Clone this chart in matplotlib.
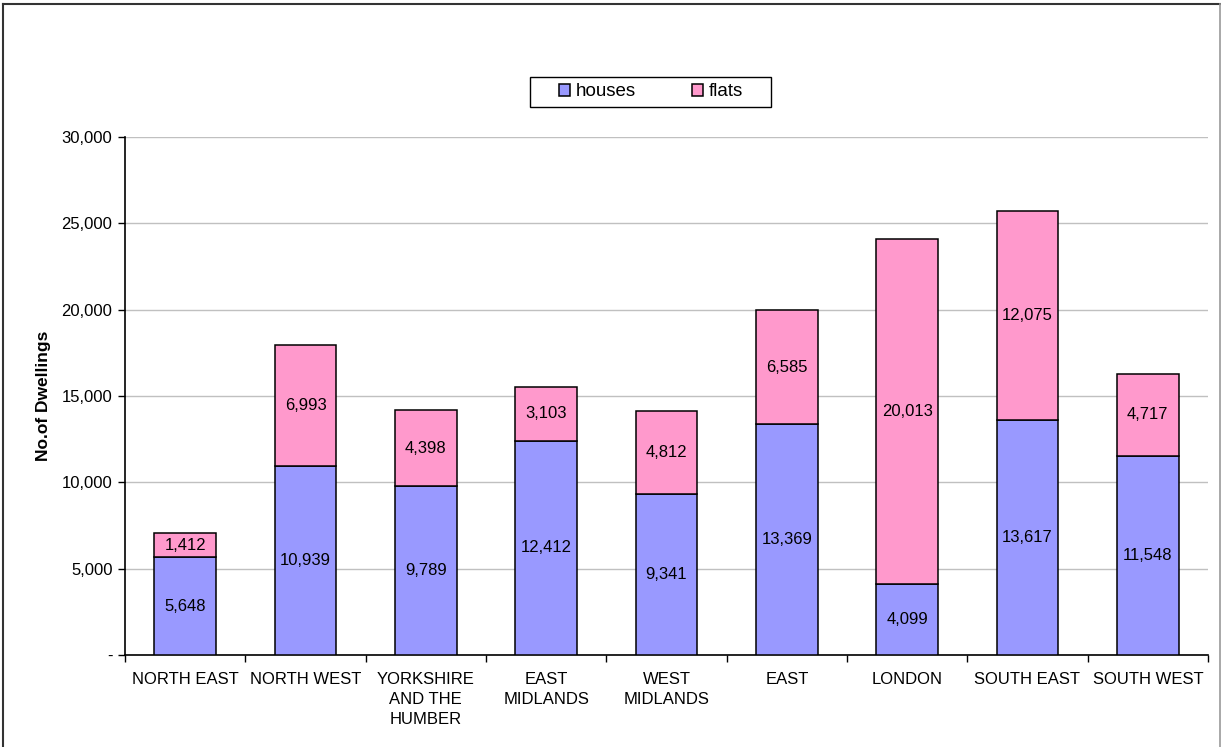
import matplotlib
matplotlib.use("Agg")
import matplotlib.pyplot as plt
from matplotlib.ticker import FuncFormatter, MultipleLocator
from matplotlib.lines import Line2D
from matplotlib.patches import Rectangle
import numpy as np

plt.rcParams['font.family'] = ['Liberation Sans', 'DejaVu Sans']

regions = ["NORTH EAST", "NORTH WEST", "YORKSHIRE\nAND THE\nHUMBER", "EAST\nMIDLANDS",
           "WEST\nMIDLANDS", "EAST", "LONDON", "SOUTH EAST", "SOUTH WEST"]
houses = [5648, 10939, 9789, 12412, 9341, 13369, 4099, 13617, 11548]
flats = [1412, 6993, 4398, 3103, 4812, 6585, 20013, 12075, 4717]

houses_color = "#9999FF"
flats_color = "#FF99CC"

fig = plt.figure(figsize=(12.21, 7.47), dpi=100)
ax = fig.add_axes([125/1221, 1-655/747, (1208-125)/1221, (655-137)/747])

x = np.arange(len(regions))
w = 0.51
bh = ax.bar(x, houses, w, color=houses_color, edgecolor="black", linewidth=1.1, label="houses", zorder=3)
bf = ax.bar(x, flats, w, bottom=houses, color=flats_color, edgecolor="black", linewidth=1.1, label="flats", zorder=3)

fs = 12
for xi, h, f in zip(x, houses, flats):
    ax.text(xi, h/2, f"{h:,}", ha="center", va="center", fontsize=fs, zorder=4)
    ax.text(xi, h + f/2, f"{f:,}", ha="center", va="center", fontsize=fs, zorder=4)

ax.set_xlim(-0.5, len(regions) - 0.5)
ax.set_ylim(0, 30000)
ax.yaxis.set_major_locator(MultipleLocator(5000))
ax.yaxis.set_major_formatter(FuncFormatter(lambda v, p: "-" if v == 0 else f"{int(v):,}"))
ax.grid(axis="y", color="#C0C0C0", linewidth=1, zorder=0)
ax.set_axisbelow(True)

ax.set_xticks(x)
ax.set_xticklabels(regions, fontsize=fs, linespacing=1.45)
ax.set_xticks(np.arange(-0.5, len(regions)), minor=True)
ax.tick_params(axis="x", which="major", length=0, pad=12)
ax.tick_params(axis="x", which="minor", length=5, width=1, direction="out")
ax.tick_params(axis="y", which="major", length=5, width=1, direction="out", labelsize=fs, pad=4)

for s in ["top", "right"]:
    ax.spines[s].set_visible(False)
ax.spines["left"].set_linewidth(1.2)
ax.spines["bottom"].set_linewidth(1.2)

ax.set_ylabel("No.of Dwellings", fontsize=12.5, fontweight="bold", labelpad=8)

# legend (frame drawn separately to match the wide padding)
fig.add_artist(Rectangle((530/1221, 1-107/747), (771-530)/1221, 30/747, transform=fig.transFigure,
                         facecolor="white", edgecolor="black", linewidth=1.0, zorder=5))
leg = fig.legend(handles=[bh, bf], labels=["houses", "flats"], loc="center",
                 bbox_to_anchor=(651/1221, 1-92/747), bbox_transform=fig.transFigure,
                 ncol=2, frameon=False, fontsize=13.5,
                 handlelength=0.6, handleheight=0.6, handletextpad=0.3, columnspacing=3.0,
                 borderpad=0.2, borderaxespad=0)
leg.set_zorder(10)

# outer border
fig.add_artist(Line2D([3/1221, 3/1221], [0, 1-4/747], transform=fig.transFigure, color="#333333", lw=1.5))
fig.add_artist(Line2D([3/1221, 1219.5/1221], [1-4/747, 1-4/747], transform=fig.transFigure, color="#333333", lw=1.5))
fig.add_artist(Line2D([1219.5/1221, 1219.5/1221], [0, 1-4/747], transform=fig.transFigure, color="#999999", lw=1.2))

fig.savefig("out.png", dpi=100)
